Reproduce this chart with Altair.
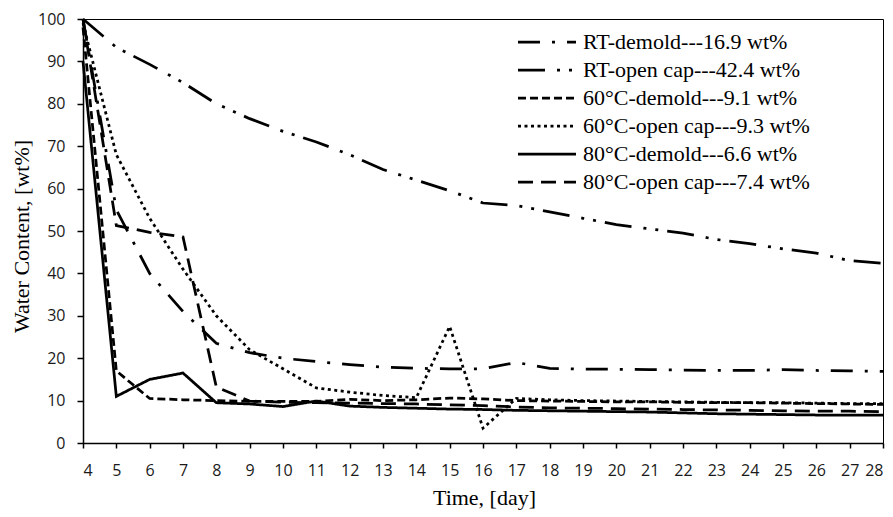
import altair as alt
import pandas as pd

days = list(range(4, 29))

series_names = [
    "RT-demold---16.9 wt%",
    "RT-open cap---42.4 wt%",
    "60°C-demold---9.1 wt%",
    "60°C-open cap---9.3 wt%",
    "80°C-demold---6.6 wt%",
    "80°C-open cap---7.4 wt%",
]

rt_demold = [100, 55, 40, 31, 23.5, 21.3, 20.0, 19.2, 18.5, 17.9, 17.6, 17.5, 17.5, 19.0,
             17.6, 17.4, 17.4, 17.3, 17.2, 17.1, 17.1, 17.3, 17.1, 17.0, 16.9]
rt_open = [100, 93.3, 89.3, 85, 80, 76.5, 73.5, 71, 68, 64.5, 62, 59.5, 56.6, 56,
           54.5, 53, 51.5, 50.5, 49.5, 48, 47, 45.8, 44.8, 43, 42.4]
c60_demold = [98, 17, 10.5, 10.2, 10.0, 9.8, 9.8, 9.8, 10.3, 10.0, 10.2, 10.6, 10.4, 10.0,
              9.9, 9.8, 9.7, 9.7, 9.6, 9.5, 9.5, 9.4, 9.3, 9.2, 9.1]
c60_open = [99, 68, 53, 41, 30, 22, 17.5, 13, 12, 11.2, 10.7, 27.5, 3.5, 10.5,
            10.2, 10.0, 9.9, 9.8, 9.7, 9.6, 9.5, 9.5, 9.4, 9.3, 9.3]
c80_demold = [90, 11, 15, 16.5, 9.5, 9.2, 8.6, 9.9, 8.7, 8.4, 8.2, 8.0, 7.9, 7.7,
              7.6, 7.5, 7.4, 7.3, 7.1, 6.9, 6.8, 6.7, 6.6, 6.6, 6.6]
c80_open = [100, 51.3, 49.7, 48.6, 13.2, 9.9, 9.6, 9.5, 9.4, 9.3, 9.2, 9.0, 8.8, 8.5,
            8.3, 8.2, 8.1, 8.0, 7.9, 7.8, 7.7, 7.6, 7.5, 7.5, 7.4]

x_ticks = list(range(4, 29))
y_ticks = list(range(0, 101, 10))

all_series = [rt_demold, rt_open, c60_demold, c60_open, c80_demold, c80_open]
rows = []
for name, vals in zip(series_names, all_series):
    for d, v in zip(days, vals):
        rows.append({"day": d, "value": v, "series": name})
df = pd.DataFrame(rows)

dashes = [
    [22, 12, 3, 12],
    [27, 12, 3, 9, 3, 9],
    [8, 4],
    [3, 3.5],
    [1, 0],
    [15, 8],
]

chart = alt.Chart(df).mark_line(color="black", strokeWidth=2.75).encode(
    x=alt.X("day:Q", scale=alt.Scale(domain=[4, 28], nice=False),
            axis=alt.Axis(values=x_ticks, title="Time, [day]", titleX=401, titleY=44)),
    y=alt.Y("value:Q", scale=alt.Scale(domain=[0, 100], nice=False),
            axis=alt.Axis(values=y_ticks, title="Water Content, [wt%]", titleX=-50, titleY=217)),
    strokeDash=alt.StrokeDash(
        "series:N",
        scale=alt.Scale(domain=series_names, range=dashes),
        legend=alt.Legend(
            title=None, orient="none", legendX=448, legendY=7,
            symbolType="M-2,0H2", symbolSize=841, symbolStrokeWidth=2.75,
            symbolStrokeColor="black", symbolFillColor="transparent",
            labelFont="Liberation Serif", labelFontSize=22,
            labelColor="black", labelLimit=0, rowPadding=1, padding=0, labelOffset=20,
        ),
    ),
    detail="series:N",
).properties(
    width=800, height=424,
    autosize=alt.AutoSizeParams(type="none"),
    padding={"left": 83, "top": 19, "right": 10, "bottom": 74},
).configure_view(
    stroke="black", strokeWidth=1
).configure_axis(
    grid=False, domainColor="black", domainWidth=1.5, tickColor="black", tickWidth=1.5,
    tickSize=6, labelFont="Open Sans", labelFontSize=16, labelColor="#1a1a1a",
    labelPadding=12, titleFont="Liberation Serif", titleFontSize=22,
    titleFontWeight="normal", titleColor="black",
).configure_axisX(labelPadding=14, tickSize=5)

chart.save("out.html", embed_options={"renderer": "svg", "actions": False})
